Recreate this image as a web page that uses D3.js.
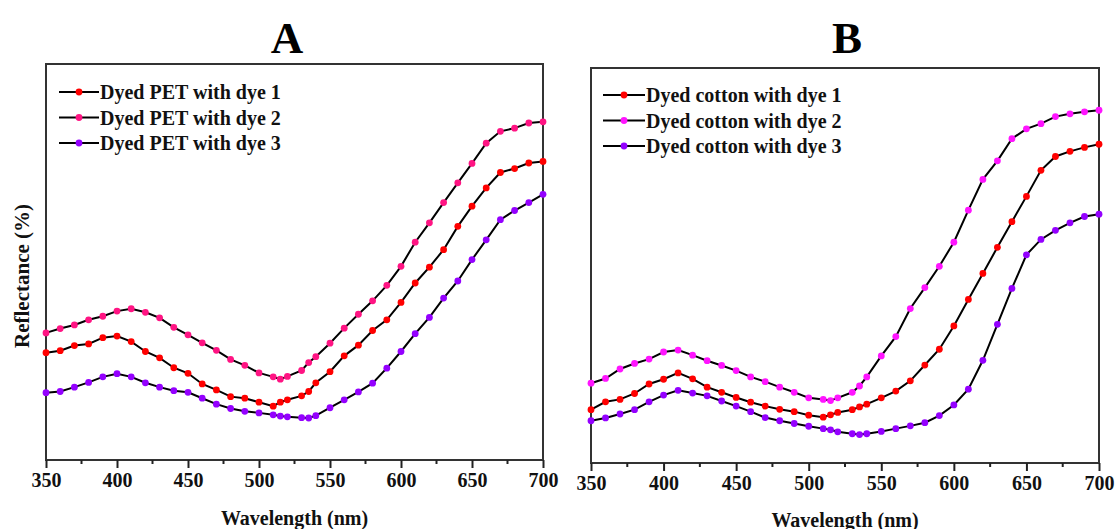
<!DOCTYPE html>
<html>
<head>
<meta charset="utf-8">
<script src="https://cdn.jsdelivr.net/npm/d3@7"></script>
<style>
  html, body { margin: 0; padding: 0; background: #fff; }
  svg { display: block; }
</style>
</head>
<body>
<div id="chart"></div>
<script>
// wavelengths (nm) sampled in both measurements
const wavelengths = [350, 360, 370, 380, 390, 400, 410, 420, 430, 440, 450, 460, 470, 480, 490, 500,
  510, 515, 520, 530, 535, 540, 550, 560, 570, 580, 590, 600, 610, 620, 630, 640, 650, 660, 670, 680, 690, 700];

// reflectance (arbitrary %, axis is unlabelled)
const petDye1 = [27.1, 27.6, 28.9, 29.3, 30.9, 31.3, 29.9, 27.4, 25.8, 23.3, 21.9, 19.2, 17.7, 16.0, 15.6, 14.6,
  13.6, 14.6, 15.2, 16.2, 17.3, 19.5, 22.3, 26.3, 29.0, 32.7, 35.4, 39.8, 44.7, 48.7, 53.1, 59.0, 64.1, 68.7, 72.6, 73.6, 75.0, 75.4];
const petDye2 = [32.1, 33.2, 34.1, 35.4, 36.3, 37.6, 38.2, 37.3, 35.9, 33.5, 31.6, 29.6, 27.7, 25.4, 23.9, 22.0,
  21.0, 20.4, 21.1, 22.6, 24.6, 26.1, 29.5, 33.3, 36.8, 40.2, 44.1, 48.9, 55.0, 59.9, 65.0, 70.0, 74.9, 80.0, 83.0, 83.8, 85.1, 85.4];
const petDye3 = [17.0, 17.3, 18.4, 19.6, 21.0, 21.8, 21.0, 19.5, 18.4, 17.5, 17.1, 15.6, 14.1, 13.0, 12.3, 11.9,
  11.4, 11.1, 10.9, 10.7, 10.6, 11.2, 13.2, 15.2, 17.2, 19.4, 23.2, 27.4, 31.9, 36.0, 40.9, 45.2, 50.6, 55.6, 60.7, 63.0, 65.0, 67.1];

const cottonDye1 = [13.5, 15.5, 16.1, 17.6, 20.0, 21.2, 22.8, 21.3, 19.2, 17.9, 16.6, 15.4, 14.4, 13.6, 13.0, 12.1,
  11.6, 12.2, 12.8, 13.5, 14.2, 14.9, 16.5, 18.2, 20.8, 24.8, 28.8, 34.7, 41.4, 48.0, 54.6, 61.1, 67.5, 74.1, 77.6, 78.9, 79.9, 80.7];
const cottonDye2 = [20.2, 21.4, 23.8, 25.2, 26.3, 28.1, 28.6, 27.3, 25.9, 24.7, 23.4, 21.8, 20.6, 19.2, 17.9, 16.5,
  16.1, 15.8, 16.5, 17.9, 19.5, 21.8, 27.1, 32.0, 39.1, 44.4, 49.8, 55.9, 64.0, 71.8, 76.5, 82.1, 84.6, 85.9, 87.7, 88.4, 88.9, 89.3];
const cottonDye3 = [10.7, 11.4, 12.4, 13.5, 15.5, 17.2, 18.4, 17.7, 17.0, 15.7, 14.4, 13.0, 11.5, 10.7, 10.0, 9.3,
  8.7, 8.4, 7.9, 7.4, 7.2, 7.4, 8.0, 8.7, 9.4, 10.2, 12.0, 14.7, 18.7, 26.0, 35.1, 44.2, 52.7, 56.6, 58.9, 60.8, 62.4, 63.0];

const xTicks = [350, 400, 450, 500, 550, 600, 650, 700];
const xMinorTicks = [375, 425, 475, 525, 575, 625, 675];

const petLabels = ["Dyed PET with dye 1", "Dyed PET with dye 2", "Dyed PET with dye 3"];
const cottonLabels = ["Dyed cotton with dye 1", "Dyed cotton with dye 2", "Dyed cotton with dye 3"];

const width = 1115;
const height = 529;
const font = "'Liberation Serif', 'Times New Roman', serif";

const svg = d3.select("#chart").append("svg")
  .attr("width", width)
  .attr("height", height)
  .style("font-family", font)
  .style("font-weight", "bold");

function drawPanel({ box, letter, letterX, series, colors, labels, legend, titleY, showYTitle }) {
  const x = d3.scaleLinear().domain([350, 700]).range([box.left, box.right]);
  const y = d3.scaleLinear().domain([0, 100]).range([box.bottom, box.top]);

  // panel letter
  svg.append("text")
    .attr("x", letterX)
    .attr("y", 53)
    .attr("text-anchor", "middle")
    .style("font-size", "45px")
    .text(letter);

  // frame
  svg.append("rect")
    .attr("x", box.left)
    .attr("y", box.top)
    .attr("width", box.right - box.left)
    .attr("height", box.bottom - box.top)
    .attr("fill", "none")
    .attr("stroke", "#333")
    .attr("stroke-width", 2);

  // x axis
  const xAxis = d3.axisBottom(x)
    .tickValues(xTicks)
    .tickSize(8)
    .tickPadding(5)
    .tickFormat(d3.format("d"));

  svg.append("g")
    .attr("transform", `translate(0,${box.bottom})`)
    .call(xAxis)
    .call(sel => sel.select(".domain").remove())
    .call(sel => sel.selectAll("line").attr("stroke", "#222").attr("stroke-width", 2))
    .call(sel => sel.selectAll("text")
      .attr("fill", "#111")
      .style("font-family", font)
      .style("font-weight", "bold")
      .style("font-size", "20px"));

  svg.append("g")
    .attr("transform", `translate(0,${box.bottom})`)
    .selectAll("line")
    .data(xMinorTicks)
    .join("line")
    .attr("x1", d => x(d))
    .attr("x2", d => x(d))
    .attr("y1", 0)
    .attr("y2", 4)
    .attr("stroke", "#222")
    .attr("stroke-width", 2);

  svg.append("text")
    .attr("x", (box.left + box.right) / 2)
    .attr("y", titleY)
    .attr("text-anchor", "middle")
    .attr("fill", "#111")
    .style("font-size", "20px")
    .text("Wavelength (nm)");

  if (showYTitle) {
    svg.append("text")
      .attr("transform", `translate(29,${(box.top + box.bottom) / 2 + 14}) rotate(-90)`)
      .attr("text-anchor", "middle")
      .attr("fill", "#111")
      .style("font-size", "21px")
      .text("Reflectance (%)");
  }

  const line = d3.line()
    .x((d, i) => x(wavelengths[i]))
    .y(d => y(d));

  series.forEach((values, k) => {
    svg.append("path")
      .datum(values)
      .attr("d", line)
      .attr("fill", "none")
      .attr("stroke", "#000")
      .attr("stroke-width", 2);

    svg.append("g")
      .selectAll("circle")
      .data(values)
      .join("circle")
      .attr("cx", (d, i) => x(wavelengths[i]))
      .attr("cy", d => y(d))
      .attr("r", 3.4)
      .attr("fill", colors[k]);
  });

  // legend
  labels.forEach((label, k) => {
    const ly = legend.y + k * 25.5;
    svg.append("line")
      .attr("x1", legend.x)
      .attr("x2", legend.x + legend.len)
      .attr("y1", ly)
      .attr("y2", ly)
      .attr("stroke", "#000")
      .attr("stroke-width", 2);
    svg.append("circle")
      .attr("cx", legend.x + legend.len / 2)
      .attr("cy", ly)
      .attr("r", 3.4)
      .attr("fill", colors[k]);
    svg.append("text")
      .attr("x", legend.x + legend.len + 1)
      .attr("y", ly)
      .attr("dy", "0.35em")
      .attr("fill", "#111")
      .style("font-size", "20px")
      .text(label);
  });
}

drawPanel({
  box: { left: 46, right: 543, top: 64, bottom: 460 },
  letter: "A",
  letterX: 287,
  series: [petDye1, petDye2, petDye3],
  colors: ["#ff0000", "#ff1483", "#9400ff"],
  labels: petLabels,
  legend: { x: 59, y: 92, len: 40 },
  titleY: 525,
  showYTitle: true
});

drawPanel({
  box: { left: 591, right: 1099, top: 68, bottom: 463 },
  letter: "B",
  letterX: 847,
  series: [cottonDye1, cottonDye2, cottonDye3],
  colors: ["#ff0000", "#ff14ff", "#9400ff"],
  labels: cottonLabels,
  legend: { x: 603, y: 95, len: 42 },
  titleY: 527,
  showYTitle: false
});
</script>
</body>
</html>
